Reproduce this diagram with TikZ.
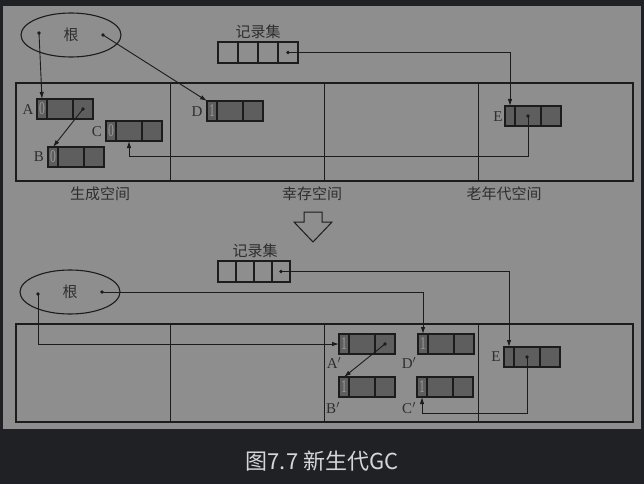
\documentclass[tikz,border=0pt]{standalone}
\usepackage{fontspec}
\usepackage{graphicx}
\setmainfont{Liberation Serif}
\newfontfamily\cjk{Noto Sans CJK SC}
\usetikzlibrary{shapes.geometric,arrows.meta,calc}
\definecolor{bgdark}{HTML}{202124}
\definecolor{paper}{HTML}{8E8E8E}
\definecolor{ink}{HTML}{1C1C1C}
\definecolor{labink}{HTML}{2E2E2E}
\definecolor{objfill}{HTML}{5E5E5E}
\definecolor{digitc}{HTML}{9A9A9A}
\definecolor{captxt}{HTML}{D4D7DA}
\newcommand{\objbox}[4]{%
  \node[cellA] (#1a) at (#2,#3) {\scalebox{0.65}[1]{#4}};
  \node[cellB] (#1b) at (#1a.north east) {};
  \node[cellC] (#1c) at (#1b.north east) {};
}
\newcommand{\recset}[4]{%
  \node[rec, minimum width=#4] (#1a) at (#2,#3) {};
  \node[rec, minimum width=#4] (#1b) at (#1a.north east) {};
  \node[rec, minimum width=#4] (#1c) at (#1b.north east) {};
  \node[rec, minimum width=#4] (#1d) at (#1c.north east) {};
}
\begin{document}
\begin{tikzpicture}[x=1pt,y=-1pt,
  space/.style={draw=ink, line width=1.1pt, minimum width=154.25pt, minimum height=98pt, inner sep=0pt, outer sep=0pt, anchor=north west},
  cellbase/.style={draw=ink, line width=1.3pt, fill=objfill, minimum height=20pt, inner sep=0pt, outer sep=0pt, anchor=north west},
  cellA/.style={cellbase, minimum width=10pt, font=\fontsize{18}{18}\selectfont, text=digitc},
  cellB/.style={cellbase, minimum width=26pt},
  cellC/.style={cellbase, minimum width=20pt},
  rec/.style={draw=ink, line width=1.1pt, minimum height=21pt, inner sep=0pt, outer sep=0pt, anchor=north west},
  lbl/.style={text=labink, font=\fontsize{15}{15}\selectfont, inner sep=0pt},
  zh/.style={text=labink, font=\cjk\fontsize{15}{15}\selectfont, inner sep=0pt},
  root/.style={ellipse, draw=ink, line width=1.1pt, minimum width=100pt, minimum height=44pt, inner sep=0pt, text=labink, font=\cjk\fontsize{15}{15}\selectfont},
  conn/.style={draw=ink, line width=0.9pt},
  arr/.style={conn, -{Latex[length=7pt,width=4.5pt]}},
  dot/.style={fill=ink}
]
\useasboundingbox (0,0) rectangle (644,484);
\fill[bgdark] (0,0) rectangle (644,484);
\fill[paper] (3,6) rectangle (641,429);

% ===== top half =====
\node[root] (root1) at (71,35) {根};
\coordinate (r1l) at (39,33);
\coordinate (r1r) at (103,35);
\node[zh] (rs1lbl) at (258,32) {记录集};
\recset{rs1}{218}{42}{20pt}

\node[space] (s1) at (16,83) {};
\node[space] (s2) at (s1.north east) {};
\node[space] (s3) at (s2.north east) {};
\node[space] (s4) at (s3.north east) {};
\node[zh] (l1) at (100,194) {生成空间};
\node[zh] (l2) at (312,194) {幸存空间};
\node[zh] (l3) at (504,194) {老年代空间};

\objbox{A}{37}{99}{0}
\objbox{B}{48}{147}{0}
\objbox{C}{106}{121}{0}
\objbox{D}{207}{101}{1}
\objbox{E}{505}{106}{}
\node[lbl] (Al) at (28,110) {A};
\node[lbl] (Bl) at (39,157) {B};
\node[lbl] (Cl) at (97,132) {C};
\node[lbl] (Dl) at (197,112) {D};
\node[lbl] (El) at (498,117) {E};

\draw[arr] (r1l) -- (Aa.north);
\draw[arr] (r1r) -- (Da.north west);
\draw[arr] (Ac.center) -- (Ba.north);
\draw[arr] (rs1d.center) -| (Ea.north);
\draw[arr] (Eb.center) -- ++(0,40) -| (Cb.south);
\foreach \p in {r1l,r1r,rs1d.center,Ac.center,Eb.center}
  \fill[dot] (\p) circle (1.9pt);

% ===== hollow arrow =====
\draw[ink, line width=1pt, line join=miter] (304,212) -- (322,212) -- (322,222) -- (332,222) -- (313,242) -- (294,222) -- (304,222) -- cycle;

% ===== bottom half =====
\node[zh] (rs2lbl) at (255,251) {记录集};
\recset{rs2}{218}{261}{18pt}
\node[root] (root2) at (70,292) {根};
\coordinate (r2l) at (38,294);
\coordinate (r2r) at (102,292);

\node[space] (t1) at (16,324) {};
\node[space] (t2) at (t1.north east) {};
\node[space] (t3) at (t2.north east) {};
\node[space] (t4) at (t3.north east) {};

\objbox{Ap}{339}{334}{1}
\objbox{Bp}{339}{377}{1}
\objbox{Dp}{418}{334}{1}
\objbox{Cp}{417}{377}{1}
\objbox{Ep}{504}{347}{}
\node[lbl] (Apl) at (334,363) {A$'$};
\node[lbl] (Bpl) at (333,408) {B$'$};
\node[lbl] (Dpl) at (409,363) {D$'$};
\node[lbl] (Cpl) at (409,408) {C$'$};
\node[lbl] (Epl) at (496,357) {E};

\draw[arr] (rs2d.center) -| (Epa.north);
\draw[arr] (r2r) -| (Dpa.north);
\draw[arr] (r2l) |- (Apa.west);
\draw[arr] (Apc.center) -- (Bpa.north);
\draw[arr] (Epb.center) -- ++(0,56) -| (Cpa.south);
\foreach \p in {r2l,r2r,rs2d.center,Apc.center,Epb.center}
  \fill[dot] (\p) circle (1.9pt);

% ===== caption =====
\node[text=captxt, font=\cjk\fontsize{22}{22}\selectfont, inner sep=0pt] (cap) at (322,461) {图7.7 新生代GC};
\end{tikzpicture}
\end{document}
